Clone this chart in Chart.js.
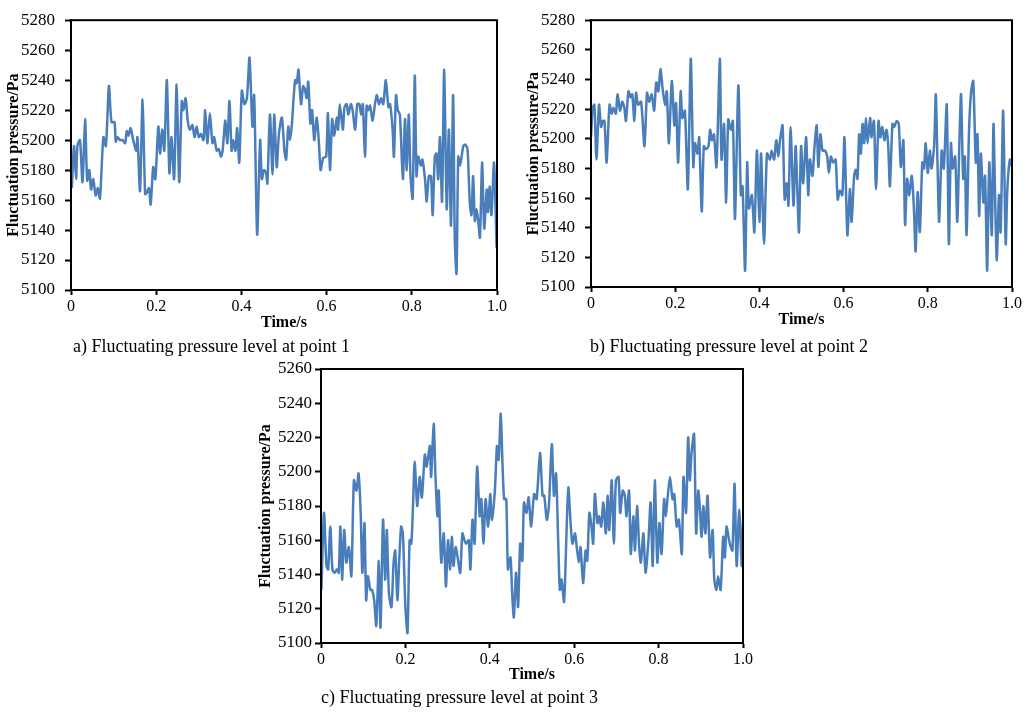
<!DOCTYPE html>
<html>
<head>
<meta charset="utf-8">
<script src="https://cdn.jsdelivr.net/npm/chart.js@4.4.1/dist/chart.umd.min.js"></script>
<style>
  body { margin: 0; background: #fff; }
  #page { position: relative; width: 1032px; height: 712px; overflow: hidden; background: #fff; }
  canvas { position: absolute; }
  .caption { position: absolute; font-family: "Liberation Serif", "Times New Roman", serif; font-size: 18px; line-height: 18px; white-space: nowrap; color: #000; }
</style>
</head>
<body>
<div id="page">
  <canvas id="chartA" width="515" height="335" style="left:0;top:0"></canvas>
  <canvas id="chartB" width="517" height="335" style="left:515px;top:0"></canvas>
  <canvas id="chartC" width="510" height="335" style="left:250px;top:355px"></canvas>
  <div class="caption" style="left:73px;top:337px">a) Fluctuating pressure level at point 1</div>
  <div class="caption" style="left:590px;top:337px">b) Fluctuating pressure level at point 2</div>
  <div class="caption" style="left:321px;top:688px">c) Fluctuating pressure level at point 3</div>
</div>
<script>
// values
var xTickValues = [0, 0.2, 0.4, 0.6, 0.8, 1.0];
var xTickLabels = ['0', '0.2', '0.4', '0.6', '0.8', '1.0'];

var timeA = [0.002, 0.007, 0.012, 0.015, 0.021, 0.027, 0.033, 0.038, 0.043, 0.047, 0.052, 0.058, 0.063, 0.068, 0.076, 0.082, 0.089, 0.095, 0.102, 0.105,
    0.109, 0.115, 0.121, 0.127, 0.131, 0.135, 0.140, 0.146, 0.153, 0.156, 0.162, 0.168, 0.174, 0.178, 0.183, 0.187, 0.193, 0.198, 0.205, 0.209,
    0.214, 0.219, 0.225, 0.231, 0.236, 0.242, 0.248, 0.254, 0.260, 0.264, 0.269, 0.274, 0.279, 0.285, 0.290, 0.295, 0.300, 0.305, 0.311, 0.315,
    0.320, 0.326, 0.332, 0.336, 0.342, 0.347, 0.352, 0.356, 0.362, 0.367, 0.372, 0.377, 0.381, 0.386, 0.390, 0.395, 0.401, 0.407, 0.413, 0.419,
    0.426, 0.430, 0.437, 0.444, 0.448, 0.453, 0.458, 0.461, 0.467, 0.473, 0.477, 0.483, 0.488, 0.495, 0.501, 0.505, 0.510, 0.514, 0.518, 0.526,
    0.530, 0.534, 0.540, 0.545, 0.549, 0.553, 0.557, 0.562, 0.566, 0.571, 0.577, 0.582, 0.586, 0.592, 0.599, 0.603, 0.608, 0.613, 0.618, 0.624,
    0.627, 0.631, 0.638, 0.642, 0.647, 0.651, 0.657, 0.661, 0.667, 0.672, 0.677, 0.681, 0.685, 0.690, 0.694, 0.698, 0.702, 0.708, 0.714, 0.718,
    0.723, 0.728, 0.733, 0.739, 0.745, 0.749, 0.755, 0.758, 0.763, 0.767, 0.772, 0.779, 0.784, 0.788, 0.793, 0.797, 0.802, 0.807, 0.811, 0.815,
    0.821, 0.825, 0.831, 0.835, 0.840, 0.845, 0.849, 0.854, 0.858, 0.862, 0.866, 0.871, 0.876, 0.882, 0.887, 0.892, 0.897, 0.901, 0.905, 0.909,
    0.913, 0.917, 0.921, 0.926, 0.931, 0.936, 0.940, 0.944, 0.948, 0.952, 0.956, 0.960, 0.965, 0.970, 0.976, 0.979, 0.983, 0.987, 0.993, 0.999];
var pressureA = [5168, 5196, 5174, 5196, 5200, 5172, 5214, 5173, 5180, 5167, 5174, 5163, 5168, 5161, 5202, 5196, 5236, 5212, 5212, 5199,
    5202, 5200, 5200, 5198, 5206, 5203, 5208, 5200, 5193, 5202, 5166, 5227, 5164, 5165, 5168, 5157, 5182, 5174, 5209, 5191,
    5207, 5193, 5240, 5178, 5202, 5174, 5237, 5172, 5226, 5220, 5228, 5213, 5207, 5210, 5202, 5209, 5202, 5204, 5200, 5220,
    5198, 5218, 5198, 5202, 5193, 5194, 5189, 5193, 5213, 5198, 5226, 5193, 5200, 5193, 5208, 5185, 5233, 5224, 5228, 5255,
    5209, 5230, 5137, 5200, 5174, 5180, 5178, 5171, 5217, 5177, 5217, 5182, 5204, 5215, 5193, 5187, 5209, 5200, 5209, 5240,
    5238, 5247, 5224, 5236, 5234, 5228, 5239, 5211, 5220, 5200, 5215, 5198, 5180, 5188, 5189, 5218, 5180, 5214, 5203, 5215,
    5207, 5224, 5207, 5222, 5224, 5217, 5224, 5220, 5207, 5224, 5224, 5217, 5224, 5189, 5223, 5220, 5223, 5213, 5225, 5230,
    5224, 5228, 5224, 5240, 5222, 5224, 5207, 5189, 5230, 5220, 5217, 5174, 5214, 5180, 5217, 5176, 5161, 5243, 5176, 5189,
    5183, 5187, 5174, 5159, 5176, 5176, 5150, 5189, 5191, 5174, 5202, 5159, 5247, 5154, 5207, 5143, 5230, 5133, 5111, 5189,
    5183, 5189, 5196, 5197, 5193, 5159, 5150, 5176, 5146, 5154, 5146, 5135, 5185, 5141, 5167, 5152, 5169, 5150, 5185, 5128];

var timeB = [0.000, 0.004, 0.008, 0.013, 0.019, 0.024, 0.028, 0.032, 0.037, 0.044, 0.049, 0.053, 0.059, 0.063, 0.069, 0.074, 0.079, 0.083, 0.089, 0.094,
    0.098, 0.103, 0.107, 0.112, 0.119, 0.127, 0.133, 0.138, 0.144, 0.150, 0.155, 0.160, 0.165, 0.170, 0.176, 0.180, 0.185, 0.192, 0.198, 0.202,
    0.207, 0.213, 0.217, 0.223, 0.230, 0.237, 0.243, 0.247, 0.253, 0.257, 0.263, 0.268, 0.273, 0.279, 0.283, 0.287, 0.292, 0.298, 0.306, 0.310,
    0.316, 0.321, 0.326, 0.332, 0.337, 0.342, 0.350, 0.356, 0.360, 0.366, 0.371, 0.375, 0.382, 0.388, 0.394, 0.400, 0.404, 0.411, 0.418, 0.425,
    0.429, 0.435, 0.440, 0.445, 0.449, 0.455, 0.460, 0.465, 0.469, 0.474, 0.481, 0.486, 0.490, 0.494, 0.499, 0.504, 0.511, 0.516, 0.520, 0.526,
    0.531, 0.536, 0.540, 0.545, 0.550, 0.556, 0.561, 0.565, 0.570, 0.575, 0.581, 0.586, 0.591, 0.597, 0.602, 0.609, 0.615, 0.619, 0.625, 0.629,
    0.633, 0.637, 0.641, 0.645, 0.649, 0.653, 0.657, 0.663, 0.666, 0.672, 0.677, 0.683, 0.687, 0.692, 0.697, 0.702, 0.706, 0.710, 0.716, 0.720,
    0.726, 0.731, 0.736, 0.742, 0.746, 0.751, 0.756, 0.762, 0.767, 0.771, 0.776, 0.781, 0.787, 0.791, 0.795, 0.800, 0.805, 0.809, 0.815, 0.819,
    0.823, 0.827, 0.833, 0.838, 0.845, 0.850, 0.855, 0.859, 0.865, 0.870, 0.875, 0.879, 0.884, 0.888, 0.892, 0.898, 0.903, 0.908, 0.914, 0.918,
    0.922, 0.926, 0.932, 0.936, 0.941, 0.946, 0.952, 0.956, 0.960, 0.964, 0.969, 0.973, 0.979, 0.985, 0.989, 0.995, 1.000];
var pressureB = [5201, 5221, 5223, 5186, 5223, 5208, 5212, 5212, 5184, 5223, 5217, 5221, 5217, 5230, 5219, 5225, 5221, 5212, 5232, 5228,
    5230, 5212, 5231, 5223, 5225, 5195, 5231, 5225, 5230, 5219, 5238, 5232, 5247, 5234, 5223, 5232, 5197, 5239, 5209, 5224,
    5184, 5232, 5214, 5219, 5166, 5254, 5181, 5197, 5190, 5201, 5151, 5195, 5193, 5195, 5206, 5199, 5203, 5181, 5254, 5186,
    5210, 5157, 5213, 5206, 5212, 5146, 5236, 5162, 5168, 5111, 5184, 5153, 5162, 5137, 5192, 5144, 5190, 5129, 5190, 5186,
    5192, 5186, 5199, 5188, 5199, 5209, 5159, 5170, 5155, 5208, 5155, 5195, 5166, 5137, 5195, 5170, 5201, 5162, 5186, 5175,
    5195, 5209, 5181, 5203, 5192, 5192, 5188, 5177, 5188, 5184, 5186, 5159, 5165, 5162, 5201, 5135, 5166, 5144, 5175, 5179,
    5173, 5203, 5190, 5210, 5197, 5214, 5197, 5214, 5201, 5212, 5166, 5212, 5201, 5208, 5199, 5206, 5195, 5168, 5210, 5208,
    5212, 5210, 5181, 5199, 5142, 5173, 5162, 5175, 5153, 5124, 5164, 5137, 5184, 5180, 5197, 5177, 5192, 5180, 5195, 5230,
    5184, 5144, 5192, 5180, 5223, 5129, 5197, 5180, 5188, 5144, 5197, 5230, 5173, 5188, 5135, 5206, 5232, 5239, 5184, 5203,
    5148, 5190, 5157, 5175, 5111, 5184, 5135, 5210, 5159, 5118, 5162, 5137, 5219, 5129, 5166, 5186, 5181];

var timeC = [0.001, 0.007, 0.013, 0.017, 0.022, 0.027, 0.032, 0.038, 0.042, 0.046, 0.050, 0.055, 0.060, 0.066, 0.072, 0.078, 0.084, 0.089, 0.094, 0.098,
    0.103, 0.107, 0.111, 0.117, 0.121, 0.126, 0.131, 0.137, 0.141, 0.147, 0.152, 0.156, 0.161, 0.167, 0.172, 0.176, 0.181, 0.186, 0.190, 0.194,
    0.200, 0.205, 0.210, 0.214, 0.218, 0.222, 0.228, 0.234, 0.239, 0.246, 0.250, 0.254, 0.258, 0.261, 0.267, 0.271, 0.276, 0.279, 0.285, 0.291,
    0.296, 0.301, 0.306, 0.310, 0.314, 0.319, 0.325, 0.330, 0.335, 0.340, 0.344, 0.350, 0.354, 0.359, 0.364, 0.370, 0.376, 0.380, 0.385, 0.390,
    0.396, 0.401, 0.405, 0.412, 0.417, 0.421, 0.426, 0.430, 0.434, 0.439, 0.443, 0.449, 0.453, 0.457, 0.462, 0.467, 0.472, 0.477, 0.481, 0.487,
    0.492, 0.498, 0.505, 0.511, 0.519, 0.525, 0.529, 0.535, 0.540, 0.547, 0.552, 0.557, 0.562, 0.566, 0.570, 0.576, 0.582, 0.586, 0.592, 0.596,
    0.602, 0.606, 0.611, 0.615, 0.621, 0.627, 0.631, 0.636, 0.641, 0.645, 0.649, 0.655, 0.659, 0.664, 0.669, 0.675, 0.679, 0.683, 0.689, 0.694,
    0.699, 0.705, 0.709, 0.715, 0.720, 0.724, 0.730, 0.734, 0.740, 0.744, 0.749, 0.754, 0.758, 0.764, 0.769, 0.776, 0.781, 0.786, 0.791, 0.797,
    0.802, 0.807, 0.813, 0.817, 0.821, 0.827, 0.833, 0.837, 0.843, 0.848, 0.855, 0.859, 0.865, 0.870, 0.874, 0.878, 0.884, 0.889, 0.894, 0.898,
    0.902, 0.906, 0.911, 0.916, 0.922, 0.928, 0.932, 0.937, 0.941, 0.947, 0.953, 0.957, 0.961, 0.967, 0.971, 0.975, 0.980, 0.985, 0.991, 0.997, 1.000];
var pressureC = [5131, 5176, 5145, 5143, 5168, 5143, 5141, 5143, 5141, 5168, 5137, 5166, 5147, 5156, 5139, 5195, 5189, 5199, 5176, 5141,
    5170, 5125, 5139, 5131, 5131, 5125, 5110, 5148, 5109, 5172, 5137, 5166, 5129, 5121, 5147, 5154, 5125, 5152, 5168, 5164,
    5121, 5106, 5160, 5158, 5180, 5206, 5180, 5197, 5185, 5210, 5203, 5209, 5215, 5197, 5228, 5199, 5174, 5189, 5147, 5164,
    5133, 5160, 5143, 5162, 5145, 5156, 5148, 5141, 5164, 5160, 5158, 5160, 5143, 5172, 5158, 5203, 5174, 5184, 5158, 5184,
    5168, 5187, 5172, 5189, 5215, 5207, 5234, 5205, 5184, 5184, 5143, 5150, 5129, 5115, 5141, 5121, 5158, 5148, 5182, 5176,
    5185, 5168, 5187, 5184, 5211, 5186, 5186, 5172, 5180, 5216, 5186, 5199, 5160, 5131, 5137, 5124, 5166, 5191, 5168, 5158,
    5164, 5156, 5147, 5156, 5135, 5154, 5148, 5176, 5168, 5158, 5187, 5170, 5174, 5168, 5182, 5164, 5186, 5166, 5195, 5158,
    5195, 5197, 5176, 5189, 5186, 5174, 5189, 5152, 5174, 5154, 5180, 5156, 5147, 5164, 5141, 5160, 5182, 5145, 5195, 5147,
    5170, 5152, 5184, 5174, 5184, 5197, 5184, 5187, 5168, 5172, 5152, 5197, 5176, 5220, 5195, 5211, 5222, 5164, 5189, 5178,
    5162, 5180, 5164, 5186, 5150, 5166, 5137, 5131, 5139, 5131, 5162, 5150, 5168, 5160, 5156, 5154, 5193, 5145, 5178, 5145, 5170];

var yRangeA = [5100, 5280];
var yRangeB = [5100, 5280];
var yRangeC = [5100, 5260];

var lineColor = '#4a7ebb';
var serif = "'Liberation Serif', 'Times New Roman', serif";

// black box around the plot area
var framePlugin = {
    id: 'frame',
    afterDraw: function (chart) {
        var a = chart.chartArea;
        var ctx = chart.ctx;
        ctx.save();
        ctx.strokeStyle = '#000';
        ctx.lineWidth = 2;
        ctx.strokeRect(a.left, a.top, a.right - a.left, a.bottom - a.top);
        ctx.restore();
    }
};

function makeChart(id, times, values, yRange, box) {
    var points = times.map(function (t, i) { return { x: t, y: values[i] }; });
    return new Chart(document.getElementById(id), {
        type: 'line',
        data: {
            datasets: [{
                data: points,
                borderColor: lineColor,
                borderWidth: 2.5,
                pointRadius: 0,
                tension: 0.25,
                fill: false
            }]
        },
        options: {
            responsive: false,
            animation: false,
            events: [],
            layout: { padding: { top: box.top, right: box.right, left: 0, bottom: 0 } },
            plugins: { legend: { display: false }, tooltip: { enabled: false } },
            scales: {
                x: {
                    type: 'linear',
                    min: 0,
                    max: 1,
                    afterBuildTicks: function (scale) {
                        scale.ticks = xTickValues.map(function (v) { return { value: v }; });
                    },
                    afterFit: function (scale) { scale.height = box.xHeight; },
                    grid: { display: true, drawOnChartArea: false, tickLength: 5, tickColor: '#000', tickWidth: 2 },
                    border: { display: true, color: '#000', width: 2 },
                    ticks: {
                        color: '#000',
                        font: { family: serif, size: 16 },
                        padding: 2,
                        maxRotation: 0,
                        callback: function (v, i) { return xTickLabels[i]; }
                    },
                    title: {
                        display: true,
                        text: 'Time/s',
                        color: '#000',
                        font: { family: serif, size: 16, weight: 'bold' },
                        padding: { top: 0, bottom: box.xTitlePad }
                    }
                },
                y: {
                    min: yRange[0],
                    max: yRange[1],
                    afterFit: function (scale) { scale.width = box.yWidth; },
                    grid: { display: true, drawOnChartArea: false, tickLength: 6, tickColor: '#000', tickWidth: 2 },
                    border: { display: true, color: '#000', width: 2 },
                    ticks: {
                        stepSize: 20,
                        color: '#000',
                        font: { family: serif, size: 17 },
                        padding: box.yTickPad,
                        callback: function (v) { return String(v); }
                    },
                    title: {
                        display: true,
                        text: 'Fluctuation pressure/Pa',
                        color: '#000',
                        font: { family: serif, size: 16, weight: 'bold' },
                        padding: { top: box.yTitlePad, bottom: 0 }
                    }
                }
            }
        },
        plugins: [framePlugin]
    });
}

makeChart('chartA', timeA, pressureA, yRangeA, { top: 14, right: 18, xHeight: 45, yWidth: 71, yTickPad: 10, xTitlePad: 3, yTitlePad: 4 });
makeChart('chartB', timeB, pressureB, yRangeB, { top: 14, right: 20, xHeight: 48, yWidth: 76, yTickPad: 10, xTitlePad: 6, yTitlePad: 9 });
makeChart('chartC', timeC, pressureC, yRangeC, { top: 14, right: 17, xHeight: 47, yWidth: 71, yTickPad: 3, xTitlePad: 6, yTitlePad: 6 });
</script>
</body>
</html>
